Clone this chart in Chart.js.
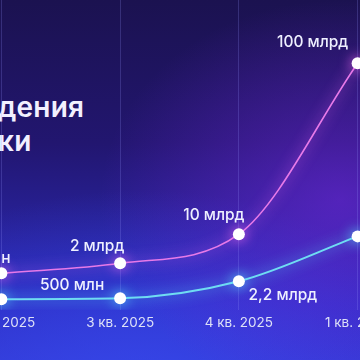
<!DOCTYPE html>
<html><head><meta charset="utf-8">
<script src="https://cdn.jsdelivr.net/npm/chart.js@4"></script>
<style>
html,body{margin:0;padding:0;width:360px;height:360px;overflow:hidden;}
body{position:relative;font-family:Inter,"Noto Sans",sans-serif;
background:
 radial-gradient(ellipse 240px 200px at 340px 200px, rgba(120,40,225,0.55), rgba(120,40,225,0) 100%),
 radial-gradient(ellipse 320px 200px at 140px 390px, rgba(55,75,240,0.75), rgba(55,75,240,0) 100%),
 linear-gradient(180deg,#1b1250 0%,#221670 40%,#2d2cc0 85%,#3236d0 100%);}
#wrap{position:absolute;left:-58px;top:0;width:475px;height:360px;}
.title{position:absolute;left:-2px;color:#f2f0ff;font-size:28px;font-weight:600;line-height:34px;letter-spacing:0.2px;}
</style></head><body>
<div class="title" style="top:90px">дения<br>ки</div>
<div id="wrap"><canvas id="c" width="475" height="360"></canvas></div>
<script>
const categories = ['2 кв. 2025','3 кв. 2025','4 кв. 2025','1 кв. 2026'];
const pinkValues = [11.8, 15.0, 24.4, 79.6];
const cyanValues = [3.4, 3.7, 9.2, 23.7];
const pinkLabels = ['500 млн','2 млрд','10 млрд','100 млрд'];
const cyanLabels = [null,'500 млн','2,2 млрд',null];

const labelOffsets = {
  0: [[-23,-15],[-23,-17],[-25,-19],[-45,-21]],
  1: [[0,0],[-48,-13],[44,14],[0,0]]
};
const allLabels = [pinkLabels, cyanLabels];
const glowColors = ['rgba(240,110,240,0.95)','rgba(90,220,255,1)'];

const glowPlugin = {
  id:'glow',
  beforeDatasetDraw(chart,args){
    const ctx=chart.ctx; ctx.save();
    ctx.shadowColor=glowColors[args.index]; ctx.shadowBlur=13;
  },
  afterDatasetDraw(chart){ chart.ctx.restore(); }
};
const labelPlugin = {
  id:'vlabels',
  afterDatasetsDraw(chart){
    const ctx=chart.ctx; ctx.save();
    ctx.font='500 15.5px Inter, "Noto Sans", sans-serif';
    ctx.fillStyle='#eef0ff'; ctx.textAlign='center'; ctx.textBaseline='middle';
    chart.data.datasets.forEach((ds,di)=>{
      chart.getDatasetMeta(di).data.forEach((pt,i)=>{
        const t=allLabels[di][i]; if(!t) return;
        const o=labelOffsets[di][i];
        ctx.fillText(t, pt.x+o[0], pt.y+o[1]);
      });
    });
    ctx.restore();
  }
};

new Chart(document.getElementById('c'),{
  type:'line',
  data:{labels:categories,datasets:[
    {data:pinkValues,borderColor:'#e77ae8',borderWidth:1.6,cubicInterpolationMode:'monotone',
     pointRadius:6,pointBackgroundColor:'#ffffff',pointBorderColor:'#ffffff',pointBorderWidth:0},
    {data:cyanValues,borderColor:'#6fdcf2',borderWidth:2,cubicInterpolationMode:'monotone',
     pointRadius:6,pointBackgroundColor:'#ffffff',pointBorderColor:'#ffffff',pointBorderWidth:0}
  ]},
  options:{
    responsive:false,animation:false,
    layout:{autoPadding:false,padding:{top:0,bottom:24,left:0,right:0}},
    plugins:{legend:{display:false},tooltip:{enabled:false}},
    scales:{
      x:{offset:true,border:{display:false},
         grid:{offset:false,color:'rgba(150,150,255,0.22)',lineWidth:1,drawTicks:false},
         ticks:{color:'#dde0f7',font:{size:13.5,family:'Inter, "Noto Sans", sans-serif'},padding:5,maxRotation:0}},
      y:{display:false,min:0,max:100}
    }
  },
  plugins:[glowPlugin,labelPlugin]
});
</script>
</body></html>
